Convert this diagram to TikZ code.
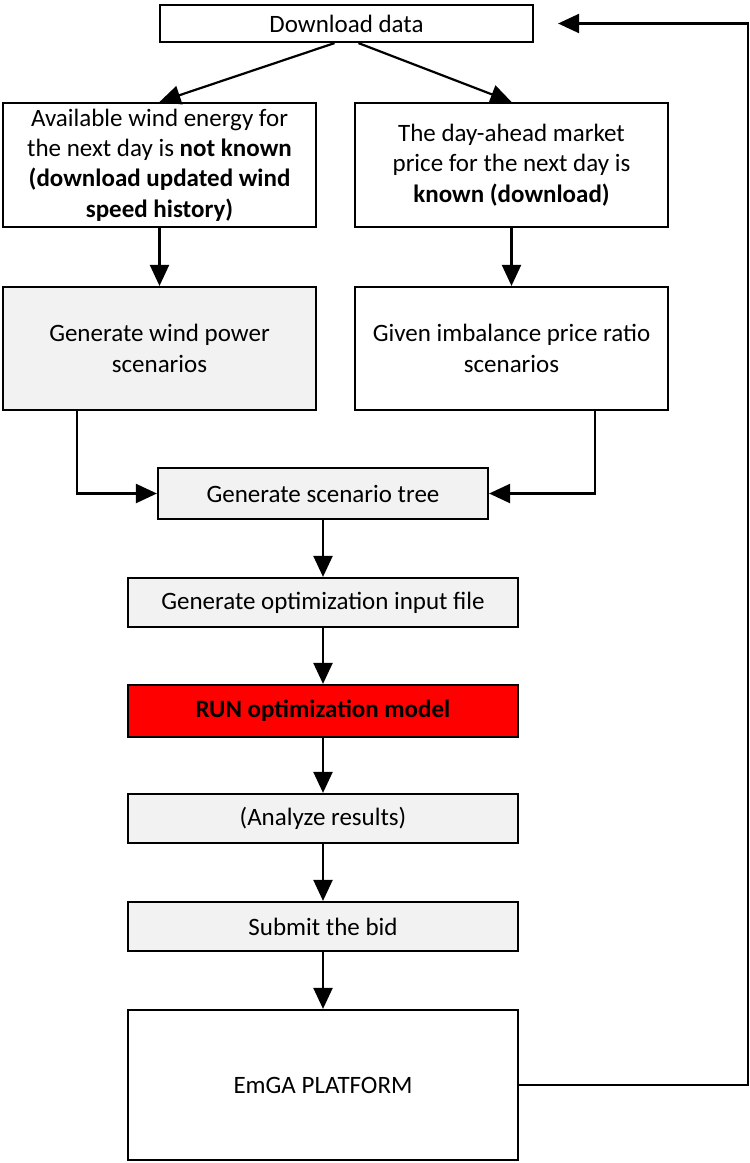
\documentclass[tikz,border=0pt]{standalone}
\usepackage{fontspec}
\setmainfont{Carlito}
\usetikzlibrary{arrows.meta,positioning,calc}

\definecolor{boxgrey}{HTML}{F2F2F2}
\definecolor{runred}{HTML}{FF0000}

\tikzset{
  stepbox/.style={draw, line width=1.1pt, align=center, inner sep=0pt,
    font=\fontsize{12.5}{15.2}\selectfont},
  greybox/.style={stepbox, fill=boxgrey},
  flow/.style={line width=1.1pt, -{Triangle[length=10.5pt, width=9.5pt]}},
}

\begin{document}
\begin{tikzpicture}[x=0.5pt, y=-0.5pt]
  \useasboundingbox (0,0) rectangle (750,1163);

  \node[stepbox, minimum width=186.5pt, minimum height=18.5pt] (dl)
  at (346.5, 23.5) {Download data};

  \node[stepbox, minimum width=156.5pt, minimum height=62pt] (wind)
  at (159.5, 165) {Available wind energy for\\ the next day is \textbf{not known}\\
    \textbf{(download updated wind}\\ \textbf{speed history)}};
  \node[stepbox, minimum width=156.5pt, minimum height=62pt] (price)
  at (511.5, 165) {The day-ahead market\\ price for the next day is\\
    \textbf{known (download)}};

  \node[greybox, minimum width=156.5pt, minimum height=61.5pt] (windsc)
  at (159.5, 348.5) {Generate wind power\\ scenarios};
  \node[stepbox, minimum width=156.5pt, minimum height=61.5pt] (pricesc)
  at (511.5, 348.5) {Given imbalance price ratio\\ scenarios};

  \node[greybox, minimum width=165pt, minimum height=25.5pt] (tree)
  at (323, 493.5) {Generate scenario tree};

  \node[greybox, minimum width=195pt, minimum height=24.5pt] (input)
  at (323, 602.5) {Generate optimization input file};
  \node[stepbox, fill=runred, minimum width=195pt, minimum height=26pt] (run)
  at (323, 711) {\textbf{RUN optimization model}};
  \node[greybox, minimum width=195pt, minimum height=24.5pt] (analyze)
  at (323, 818.5) {(Analyze results)};
  \node[greybox, minimum width=195pt, minimum height=24.5pt] (bid)
  at (323, 926.5) {Submit the bid};
  \node[stepbox, minimum width=195pt, minimum height=75pt] (emga)
  at (323, 1085) {EmGA PLATFORM};

  % connectors
  \draw[flow] ([xshift=-6pt]dl.south) -- (wind.north);
  \draw[flow] ([xshift=6pt]dl.south) -- (price.north);
  \draw[flow] (wind) -- (windsc);
  \draw[flow] (price) -- (pricesc);
  \draw[flow] ([xshift=-41.25pt]windsc.south) |- (tree.west);
  \draw[flow] ([xshift=41.75pt]pricesc.south) |- (tree.east);
  \draw[flow] (tree) -- (input);
  \draw[flow] (input) -- (run);
  \draw[flow] (run) -- (analyze);
  \draw[flow] (analyze) -- (bid);
  \draw[flow] (bid) -- (emga);
  \draw[flow] (emga.east) -| (748, 23.5) -- ([xshift=12pt]dl.east);
\end{tikzpicture}
\end{document}
